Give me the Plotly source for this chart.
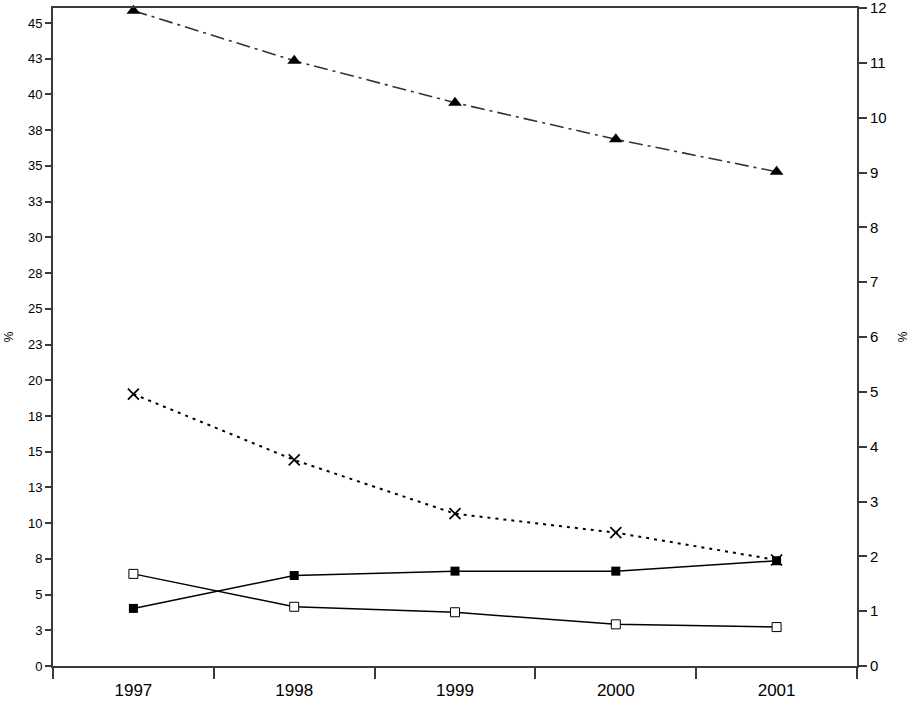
import plotly.graph_objects as go

years = ["1997", "1998", "1999", "2000", "2001"]
triangle_left = [45.86, 42.36, 39.42, 36.86, 34.59]
cross_left = [19.03, 14.42, 10.66, 9.33, 7.42]
filled_sq_right = [1.05, 1.65, 1.73, 1.73, 1.92]
open_sq_right = [1.68, 1.08, 0.98, 0.76, 0.71]

left_tickvals = [i * 2.5 for i in range(19)]
left_ticktext = ["0", "3", "5", "8", "10", "13", "15", "18", "20", "23", "25",
                 "28", "30", "33", "35", "38", "40", "43", "45"]
right_tickvals = list(range(13))

fig = go.Figure()

fig.add_trace(go.Scatter(
    x=years, y=open_sq_right, yaxis="y2", mode="lines+markers",
    line=dict(color="black", width=1.5), cliponaxis=False,
    marker=dict(symbol="square", size=9, color="white",
                line=dict(color="black", width=1)),
))
fig.add_trace(go.Scatter(
    x=years, y=filled_sq_right, yaxis="y2", mode="lines+markers",
    line=dict(color="black", width=1.5), cliponaxis=False,
    marker=dict(symbol="square", size=9, color="black"),
))
fig.add_trace(go.Scatter(
    x=years, y=triangle_left, yaxis="y", mode="lines+markers",
    line=dict(color="#333333", width=1.6, dash="14px,5px,3px,5px"),
    cliponaxis=False,
    marker=dict(symbol="triangle-up", size=12, color="black"),
))
fig.add_trace(go.Scatter(
    x=years, y=cross_left, yaxis="y", mode="lines+markers",
    line=dict(color="black", width=2, dash="3px,5px"), cliponaxis=False,
    marker=dict(symbol="x-thin-open", size=11,
                line=dict(color="black", width=1.7)),
))

axis_color = "#3a3a3a"
fig.update_layout(
    width=915, height=706,
    margin=dict(l=53, r=58, t=8, b=40),
    paper_bgcolor="white", plot_bgcolor="white",
    showlegend=False,
    font=dict(family="Liberation Sans, Arial, sans-serif", color="black"),
    xaxis=dict(
        type="category", range=[-0.5, 4.5], automargin=False,
        tickson="boundaries", ticks="outside", ticklen=11, tickwidth=1.5,
        tickcolor=axis_color, ticklabelstandoff=8, ticklabeloverflow="allow",
        showline=True, linecolor=axis_color, linewidth=2, mirror=True,
        showgrid=False, zeroline=False,
        tickfont=dict(size=17),
    ),
    yaxis=dict(
        range=[0, 46.05], tickvals=left_tickvals, ticktext=left_ticktext,
        automargin=False, ticklabeloverflow="allow",
        ticks="outside", ticklen=6, tickwidth=1.5, tickcolor=axis_color,
        showline=True, linecolor=axis_color, linewidth=2,
        showgrid=False, zeroline=False,
        tickfont=dict(size=13),
        title=dict(text="%", font=dict(size=12), standoff=12),
    ),
    yaxis2=dict(
        overlaying="y", side="right", automargin=False,
        ticklabeloverflow="allow",
        range=[0, 12], tickvals=right_tickvals,
        ticks="outside", ticklen=8, tickwidth=1.5, tickcolor=axis_color,
        showline=True, linecolor=axis_color, linewidth=2,
        showgrid=False, zeroline=False,
        tickfont=dict(size=15),
        title=dict(text="%", font=dict(size=12), standoff=13),
    ),
)

fig.write_html("out.html", config={"displayModeBar": False},
               post_script="document.body.style.margin='0';")
